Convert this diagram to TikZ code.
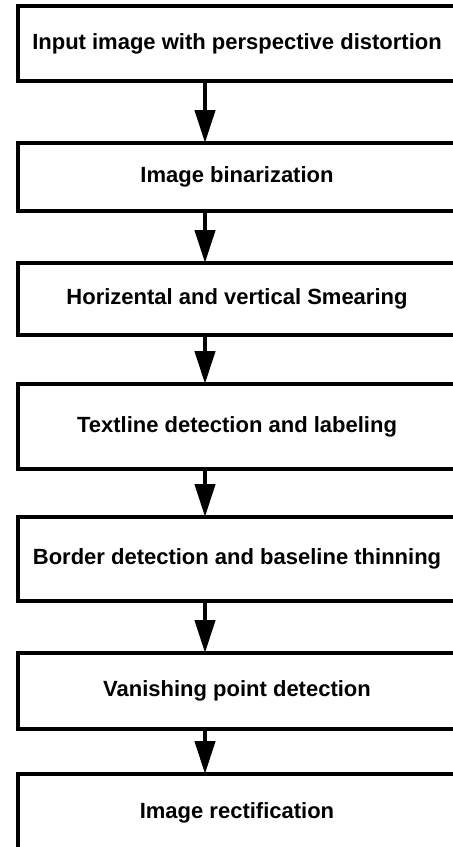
\documentclass[tikz,border=0pt]{standalone}
\usepackage{fontspec}
\setmainfont{Liberation Sans}
\usetikzlibrary{arrows.meta}
\begin{document}
\begin{tikzpicture}[x=0.75pt,y=-0.75pt,
  box/.style={draw, line width=3pt, rectangle, inner sep=0pt, outer sep=0pt,
    minimum width=328.5pt, font=\fontsize{16.5}{20}\selectfont\bfseries},
  arr/.style={line width=3.3pt, -{Triangle[length=24.75pt,width=15pt]}}]
\useasboundingbox (0,0) rectangle (453,847);
\clip (0,0) rectangle (453,847);
\node[box, minimum height=56.25pt] (b1) at (237,43.5) {Input image with perspective distortion};
\node[box, minimum height=51pt] (b2) at (237,177) {Image binarization};
\node[box, minimum height=54pt] (b3) at (237,299) {Horizental and vertical Smearing};
\node[box, minimum height=63.75pt] (b4) at (237,426.5) {Textline detection and labeling};
\node[box, minimum height=63pt] (b5) at (237,559) {Border detection and baseline thinning};
\node[box, minimum height=57pt] (b6) at (237,691) {Vanishing point detection};
\node[box, minimum height=58.5pt] (b7) at (237,813) {Image rectification};
\foreach \a/\b in {b1/b2,b2/b3,b3/b4,b4/b5,b5/b6,b6/b7}
  \draw[arr] ([xshift=-24pt]\a.south) -- ([xshift=-24pt]\b.north);
\end{tikzpicture}
\end{document}
